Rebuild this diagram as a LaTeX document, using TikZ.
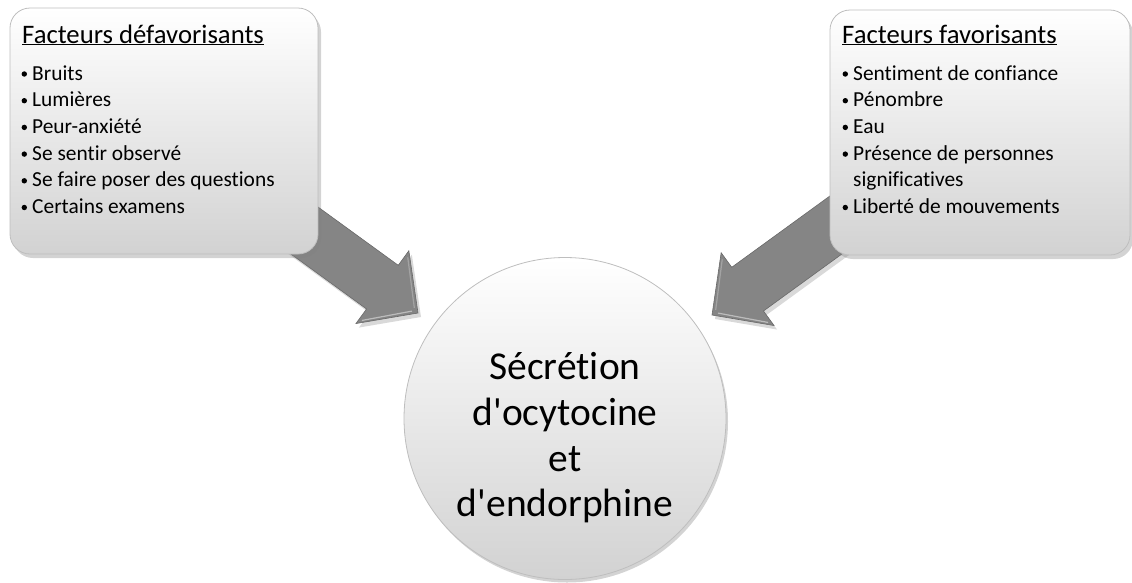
\documentclass[tikz,border=0pt]{standalone}
\usepackage{fontspec}
\setmainfont{Carlito}
\newfontfamily\calib{Carlito}[Ligatures=NoCommon]
\usetikzlibrary{shadows,calc}
\definecolor{arrowgray}{RGB}{133,133,133}
\definecolor{arrowedge}{RGB}{105,105,105}
\definecolor{boxbottom}{RGB}{210,210,210}
\definecolor{boxedge}{RGB}{190,190,190}
\tikzset{
  boxstyle/.style={draw=boxedge, line width=0.8pt, rounded corners=20pt,
    top color=white, bottom color=boxbottom, inner sep=0pt,
    drop shadow={shadow xshift=3pt, shadow yshift=-4pt, opacity=0.35}},
  ballstyle/.style={circle, draw=boxedge, line width=0.8pt, inner sep=0pt,
    top color=white, bottom color=boxbottom,
    drop shadow={shadow xshift=2pt, shadow yshift=-3pt, opacity=0.35}},
  arrowstyle/.style={fill=arrowgray, draw=arrowedge, line width=0.6pt, line join=miter,
    drop shadow={shadow xshift=3pt, shadow yshift=-4pt, opacity=0.3}},
  titletext/.style={anchor=base west, inner sep=0pt, font=\calib\fontsize{26.7pt}{32pt}\selectfont},
  itemtext/.style={anchor=base west, inner sep=0pt, font=\calib\fontsize{21.4pt}{26.7pt}\selectfont},
  centretext/.style={align=center, inner sep=0pt, font=\calib\fontsize{39.5pt}{45.7pt}\selectfont},
}
\begin{document}
\begin{tikzpicture}[x=1pt, y=-1pt]
\useasboundingbox (0,0) rectangle (1132,582);

% block arrows (behind the boxes)
\coordinate (ltip) at (418,313);
\coordinate (rtip) at (712,315);
\begin{scope}[shift={(ltip)}, rotate=-36]
  \path[arrowstyle] (0,0) -- (-44,45) -- (-44,27) -- (-250,27) -- (-250,-27) -- (-44,-27) -- (-44,-45) -- cycle;
  \draw[white, opacity=0.45, line width=1.2pt] (-41,39) -- (-6,2);
  \draw[white, opacity=0.25, line width=1.2pt] (-41,-39) -- (-6,-2);
\end{scope}
\begin{scope}[shift={(rtip)}, rotate=-144]
  \path[arrowstyle] (0,0) -- (-44,45) -- (-44,27) -- (-250,27) -- (-250,-27) -- (-44,-27) -- (-44,-45) -- cycle;
  \draw[white, opacity=0.45, line width=1.2pt] (-41,-39) -- (-6,-2);
  \draw[white, opacity=0.25, line width=1.2pt] (-41,39) -- (-6,2);
\end{scope}

% boxes
\node[boxstyle, minimum width=308pt, minimum height=246pt] (lbox) at (164,131) {};
\node[boxstyle, minimum width=300pt, minimum height=245pt] (rbox) at (980,132.5) {};

% left box text
\node[titletext] (ltitle) at (22,43) {\underline{Facteurs défavorisants}};
\foreach \t [count=\i] in {Bruits, Lumières, Peur-anxiété, Se sentir observé, Se faire poser des questions, Certains examens} {
  \node[itemtext] (l\i) at (32,{53.3+26.7*\i}) {\t};
  \fill (24.3,{47.3+26.7*\i}) circle (2.7);
}

% right box text
\node[titletext] (rtitle) at (842,43) {\underline{Facteurs favorisants}};
\foreach \t [count=\i] in {Sentiment de confiance, Pénombre, Eau, Présence de personnes, significatives, Liberté de mouvements} {
  \node[itemtext] (r\i) at (853,{53.3+26.7*\i}) {\t};
}
\foreach \i in {1,2,3,4,6} {
  \fill (845.3,{47.3+26.7*\i}) circle (2.7);
}

% central circle
\node[ballstyle, minimum size=322pt] (c) at (565,418.5) {};
\node[centretext] (ct) at (565,438) {Sécrétion\\d'ocytocine\\et\\d'endorphine};
\end{tikzpicture}
\end{document}
